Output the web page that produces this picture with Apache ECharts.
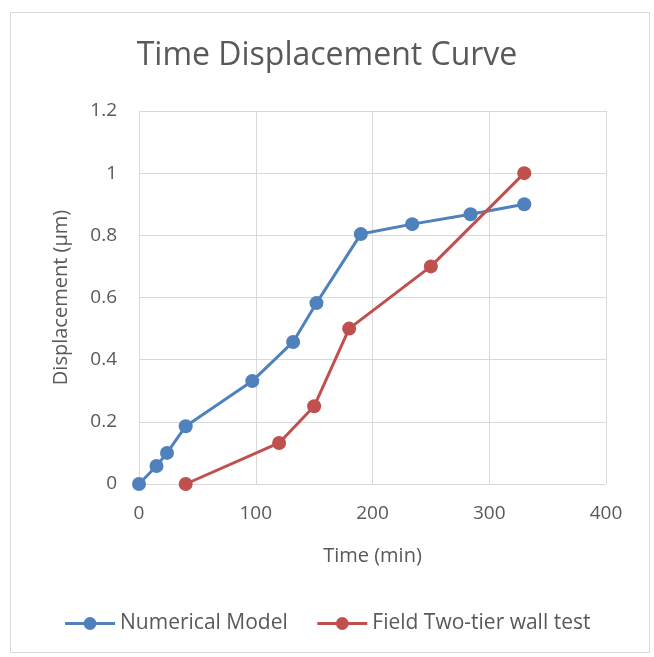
<!DOCTYPE html>
<html><head><meta charset="utf-8">
<script src="https://cdn.jsdelivr.net/npm/echarts@6/dist/echarts.min.js"></script>
<style>html,body{margin:0;padding:0;background:#fff}#c{width:654px;height:657px}</style>
</head><body><div id="c"></div>
<script>
const numTime = [0, 15, 24, 40, 97, 132, 152, 190, 234, 284, 330];
const numDisp = [0, 0.058, 0.1, 0.186, 0.331, 0.457, 0.582, 0.804, 0.836, 0.868, 0.9];
const fieldTime = [40, 120, 150, 180, 250, 330];
const fieldDisp = [0, 0.132, 0.25, 0.5, 0.7, 1.0];
const seriesNames = ['Numerical Model', 'Field Two-tier wall test'];

const font = '"Open Sans", "Noto Sans", sans-serif';
const chart = echarts.init(document.getElementById('c'));
chart.setOption({
  animation: false,
  backgroundColor: '#fff',
  graphic: [{type:'rect', shape:{x:10.5,y:12.5,width:639,height:640}, style:{fill:'none', stroke:'#d9d9d9', lineWidth:1}, silent:true}],
  title: {text:'Time Displacement Curve', left:'center', top:35, textStyle:{fontFamily:font, fontSize:32, fontWeight:'normal', color:'#595959'}},
  grid: {left:139, right:48, top:111, bottom:173},
  legend: {bottom:18, left:'center', itemWidth:50, itemHeight:16, itemGap:28,
    lineStyle:{width:3},
    textStyle:{fontFamily:font, fontSize:21, color:'#595959'}, data: seriesNames},
  xAxis: {type:'value', min:0, max:400, interval:100, name:'Time (min)', nameLocation:'middle', nameGap:62,
    nameTextStyle:{fontFamily:font, fontSize:20, color:'#595959'},
    axisLine:{show:false}, axisTick:{show:false},
    axisLabel:{fontFamily:font, fontSize:19, color:'#595959', margin:20},
    splitLine:{show:true, lineStyle:{color:'#d9d9d9', width:1}}},
  yAxis: {type:'value', min:0, max:1.2, interval:0.2, name:'Displacement (µm)', nameLocation:'middle', nameGap:68,
    nameTextStyle:{fontFamily:font, fontSize:20, color:'#595959'},
    axisLine:{show:false}, axisTick:{show:false},
    axisLabel:{fontFamily:font, fontSize:19, color:'#595959', margin:22, formatter: v => String(Math.round(v*10)/10)},
    splitLine:{show:true, lineStyle:{color:'#d9d9d9', width:1}}},
  series: [
    {name:seriesNames[0], type:'line', data:numTime.map((t,i)=>[t,numDisp[i]]), symbol:'circle', symbolSize:14,
     lineStyle:{color:'#4f81bd', width:3}, itemStyle:{color:'#4f81bd'}},
    {name:seriesNames[1], type:'line', data:fieldTime.map((t,i)=>[t,fieldDisp[i]]), symbol:'circle', symbolSize:14,
     lineStyle:{color:'#c0504d', width:3}, itemStyle:{color:'#c0504d'}}
  ]
});
</script></body></html>
